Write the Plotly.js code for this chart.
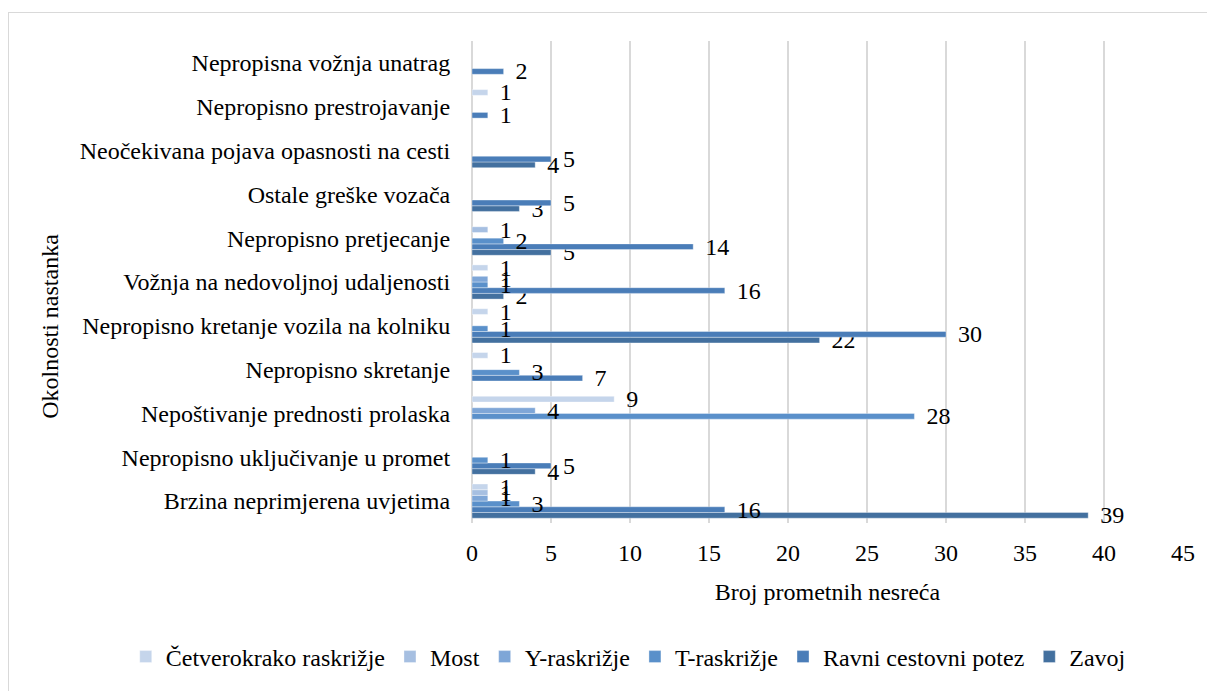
<!DOCTYPE html>
<html>
<head>
<meta charset="utf-8">
<script src="https://cdn.plot.ly/plotly-3.0.1.min.js"></script>
<style>
  html, body { margin: 0; padding: 0; background: #fff; overflow: hidden; }
  #wrap { position: relative; width: 1207px; height: 691px; overflow: hidden; }
  #chart { position: absolute; left: 0; top: 0; width: 1207px; height: 691px; }
  #frame { position: absolute; left: 8px; top: 12px; width: 1210px; height: 700px; border: 1.5px solid #d9d9d9; pointer-events: none; }
</style>
</head>
<body>
<div id="wrap">
  <div id="chart"></div>
  <div id="frame"></div>
</div>
<script>
// Categories listed bottom to top
const categories = [
  "Brzina neprimjerena uvjetima",
  "Nepropisno uključivanje u promet",
  "Nepoštivanje prednosti prolaska",
  "Nepropisno skretanje",
  "Nepropisno kretanje vozila na kolniku",
  "Vožnja na nedovoljnoj udaljenosti",
  "Nepropisno pretjecanje",
  "Ostale greške vozača",
  "Neočekivana pojava opasnosti na cesti",
  "Nepropisno prestrojavanje",
  "Nepropisna vožnja unatrag"
];

const cetverokrako = [1, null, 9, 1, 1, 1, null, null, null, 1, null];
const most         = [1, null, null, null, null, null, 1, null, null, null, null];
const yRaskrizje   = [1, null, 4, null, null, 1, null, null, null, null, null];
const tRaskrizje   = [3, 1, 28, 3, 1, 1, 2, null, null, null, null];
const ravni        = [16, 5, null, 7, 30, 16, 14, 5, 5, 1, 2];
const zavoj        = [39, 4, null, null, 22, 2, 5, 3, 4, null, null];

const xTicks = [0, 5, 10, 15, 20, 25, 30, 35, 40, 45];

const seriesNames = ["Zavoj", "Ravni cestovni potez", "T-raskrižje", "Y-raskrižje", "Most", "Četverokrako raskrižje"];
const seriesValues = [zavoj, ravni, tRaskrizje, yRaskrizje, most, cetverokrako];
const seriesColors = ["#43709f", "#4a7db8", "#5a90ca", "#7ea6d7", "#a6bfe1", "#c5d5eb"];

const FONT = "Liberation Serif, Times New Roman, Tinos, DejaVu Serif, serif";

const traces = seriesNames.map((name, i) => ({
  type: "bar",
  orientation: "h",
  name: name,
  y: categories,
  x: seriesValues[i],
  marker: { color: seriesColors[i], line: { color: "rgba(255,255,255,0.7)", width: 0.5 } },
  texttemplate: "\u00a0\u00a0%{x}",
  textposition: "outside",
  constraintext: "none",
  cliponaxis: false,
  textfont: { family: FONT, size: 24, color: "#000" },
  hoverinfo: "x+name"
}));

const layout = {
  width: 1207,
  height: 691,
  margin: { l: 472, r: 24, t: 41, b: 164 },
  paper_bgcolor: "rgba(0,0,0,0)",
  plot_bgcolor: "rgba(0,0,0,0)",
  barmode: "group",
  bargap: 0.22,
  bargroupgap: 0,
  font: { family: FONT, size: 24, color: "#000" },
  xaxis: {
    range: [0, 45],
    tickvals: xTicks,
    ticktext: xTicks.map(String),
    showgrid: true,
    gridcolor: "#d9d9d9",
    gridwidth: 1.5,
    zeroline: true,
    zerolinecolor: "#d9d9d9",
    zerolinewidth: 1.5,
    showline: false,
    ticks: "outside",
    ticklen: 8,
    tickcolor: "rgba(0,0,0,0)",
    tickfont: { family: FONT, size: 24, color: "#000" },
    title: { text: "Broj prometnih nesreća", font: { family: FONT, size: 24, color: "#000" }, standoff: 18 },
    fixedrange: true
  },
  yaxis: {
    type: "category",
    categoryorder: "array",
    categoryarray: categories,
    showgrid: false,
    zeroline: false,
    showline: false,
    ticks: "outside",
    ticklen: 16,
    tickcolor: "rgba(0,0,0,0)",
    tickfont: { family: FONT, size: 24, color: "#000" },
    fixedrange: true
  },
  legend: {
    orientation: "h",
    traceorder: "reversed",
    x: -0.487,
    xanchor: "left",
    y: -0.278,
    yanchor: "middle",
    font: { family: FONT, size: 24, color: "#000" },
    itemwidth: 30
  },
  annotations: [{
    text: "Okolnosti nastanka",
    xref: "paper", yref: "paper",
    x: -0.5935, y: 0.407,
    xanchor: "center", yanchor: "middle",
    textangle: -90,
    showarrow: false,
    font: { family: FONT, size: 24, color: "#000" }
  }]
};

Plotly.newPlot("chart", traces, layout, { displayModeBar: false, staticPlot: true });
</script>
</body>
</html>
